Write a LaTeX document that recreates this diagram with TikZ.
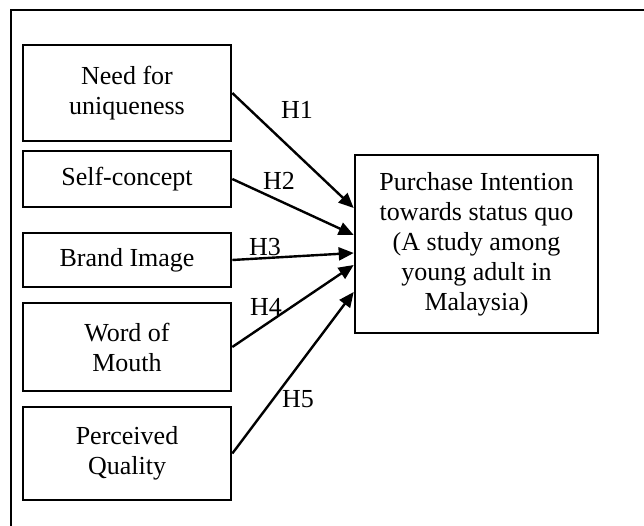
\documentclass[tikz,border=0pt]{standalone}
\usepackage{fontspec}
\setmainfont{Liberation Serif}
\usepackage{tikz}
\usetikzlibrary{arrows.meta}

\begin{document}
\begin{tikzpicture}[x=1pt,y=-1pt,
  factor/.style={draw, line width=2.6pt, minimum width=208pt, inner sep=0pt,
    align=center, font=\fontsize{26}{30}\selectfont},
  result/.style={draw, line width=2.6pt, minimum width=243pt, minimum height=178pt,
    inner sep=0pt, align=center, font=\fontsize{26}{30}\selectfont},
  hyp/.style={inner sep=0pt, font=\fontsize{26}{30}\selectfont},
  link/.style={line width=2.4pt, -{Triangle[length=15pt,width=13pt]}}]

\useasboundingbox (0,0) rectangle (644,526);
\clip (0,0) rectangle (644,526);

\draw[line width=2pt] (11,600) -- (11,10) -- (700,10);

\node[factor, minimum height=96pt] (nfu) at (127,93) {Need for\\uniqueness};
\node[factor, minimum height=56pt] (sc) at (127,179) {Self-concept};
\node[factor, minimum height=54pt] (bi) at (127,260) {Brand Image};
\node[factor, minimum height=88pt] (wom) at (127,347) {Word of\\Mouth};
\node[factor, minimum height=93pt] (pq) at (127,453.5) {Perceived\\Quality};

\node[result] (pi) at (476.5,244) {Purchase Intention\\towards status quo\\(A study among\\young adult in\\Malaysia)};

\draw[link] (nfu.east) -- ([yshift=36pt]pi.west);
\draw[link] (sc.east) -- ([yshift=9pt]pi.west);
\draw[link] (bi.east) -- ([yshift=-9pt]pi.west);
\draw[link] (wom.east) -- ([yshift=-21pt]pi.west);
\draw[link] (pq.east) -- ([yshift=-48pt]pi.west);

\node[hyp] (h1) at (297,110) {H1};
\node[hyp] (h2) at (279,181) {H2};
\node[hyp] (h3) at (265,247) {H3};
\node[hyp] (h4) at (266,307) {H4};
\node[hyp] (h5) at (298,399) {H5};

\end{tikzpicture}
\end{document}
